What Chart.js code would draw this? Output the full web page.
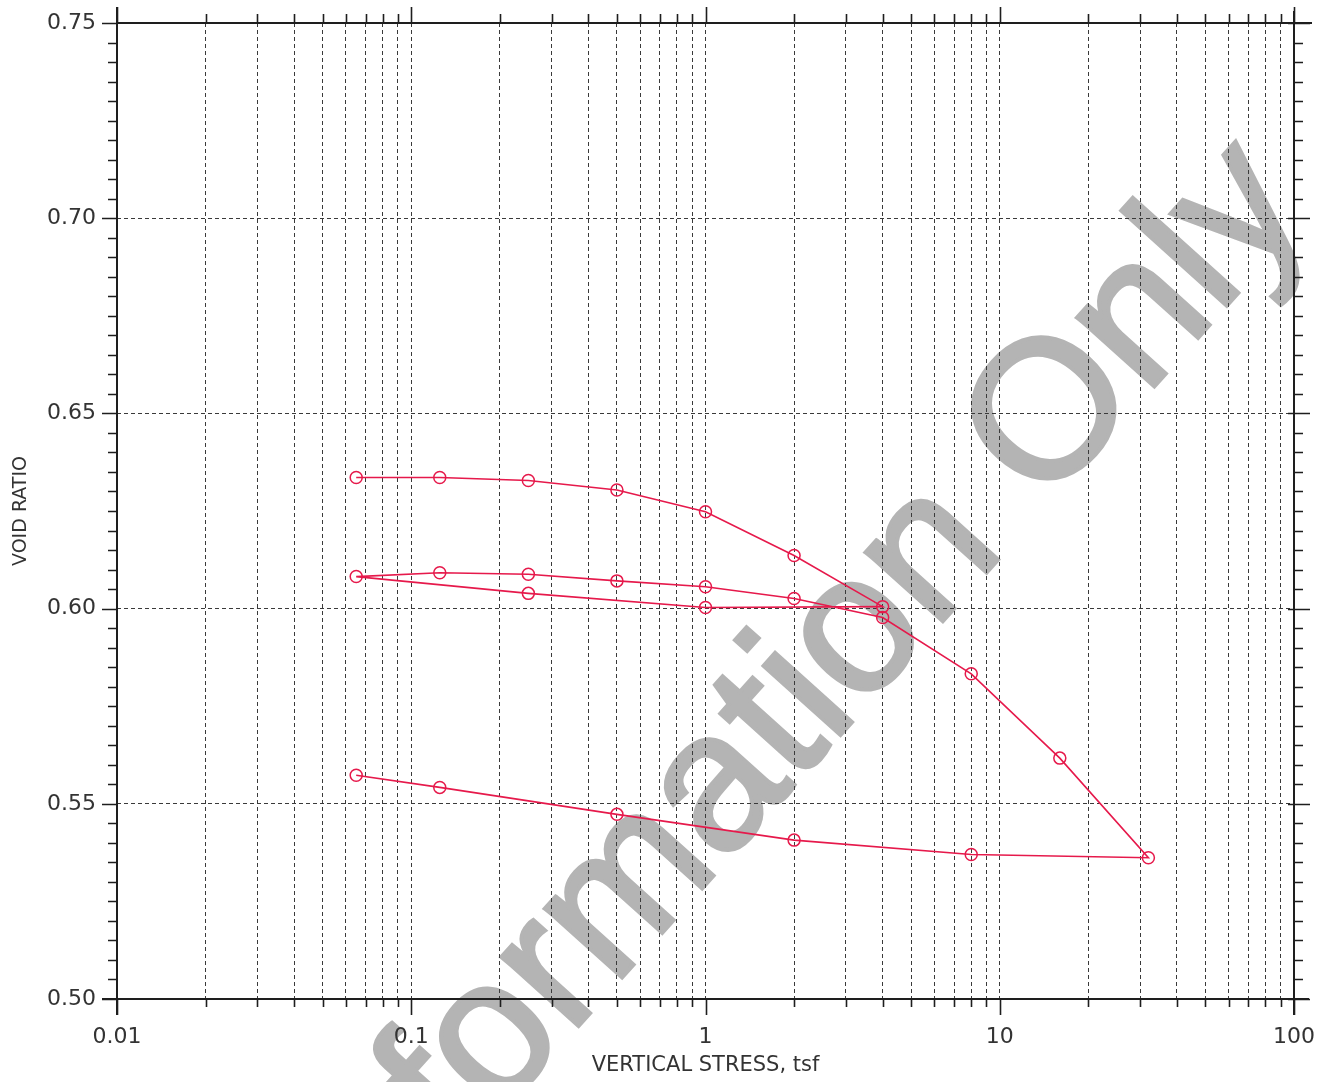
<!DOCTYPE html>
<html>
<head>
<meta charset="utf-8">
<script src="https://cdn.jsdelivr.net/npm/chart.js@4.4.1/dist/chart.umd.min.js"></script>
<style>
  html, body { margin: 0; padding: 0; background: #ffffff; }
  #wrap { width: 1326px; height: 1082px; }
</style>
</head>
<body>
<div id="wrap"><canvas id="c" width="1326" height="1082"></canvas></div>
<script>
// ---- Data ----
const stress = [0.065, 0.125, 0.25, 0.5, 1, 2, 4,
                1, 0.25, 0.065,
                0.125, 0.25, 0.5, 1, 2, 4, 8, 16, 32,
                8, 2, 0.5, 0.125, 0.065];
const voidRatio = [0.6336, 0.6336, 0.6328, 0.6304, 0.6248, 0.6136, 0.6005,
                   0.6003, 0.6039, 0.6082,
                   0.6092, 0.6088, 0.6071, 0.6056, 0.6026, 0.5977, 0.5833, 0.5617, 0.5362,
                   0.5370, 0.5407, 0.5473, 0.5542, 0.5573];

// ---- Axis ticks ----
const xGridValues = [0.01, 0.02, 0.03, 0.04, 0.05, 0.06, 0.07, 0.08, 0.09,
                     0.1, 0.2, 0.3, 0.4, 0.5, 0.6, 0.7, 0.8, 0.9,
                     1, 2, 3, 4, 5, 6, 7, 8, 9,
                     10, 20, 30, 40, 50, 60, 70, 80, 90, 100];
const xDecades = [0.01, 0.1, 1, 10, 100];
const xTickLabels = ['0.01', '0.1', '1', '10', '100'];
const yTicks = [0.50, 0.55, 0.60, 0.65, 0.70, 0.75];
const yTickLabels = ['0.50', '0.55', '0.60', '0.65', '0.70', '0.75'];
const yMinorStep = 0.005;

const xTitle = 'VERTICAL STRESS, tsf';
const yTitle = 'VOID RATIO';
const watermark = 'Information Only';

const lineColor = '#e6194b';
const axisColor = '#1e1e1e';
const gridColor = '#3a3a3a';
const textColor = '#333333';
const fontFamily = '"DejaVu Sans", "Liberation Sans", Arial, sans-serif';
const wmFamily = '"Liberation Sans", Arial, Helvetica, sans-serif';

function isDecade(v) {
  return xDecades.some(d => Math.abs(v - d) / d < 1e-6);
}
function zeroPad(s) {
  s.paddingTop = 0; s.paddingBottom = 0; s.paddingLeft = 0; s.paddingRight = 0;
}

const watermarkPlugin = {
  id: 'watermark',
  beforeDraw(chart) {
    const ctx = chart.ctx;
    ctx.save();
    ctx.font = '196px ' + wmFamily;
    ctx.fillStyle = '#b4b4b4';
    ctx.strokeStyle = '#b4b4b4';
    ctx.lineWidth = 4;
    const pre = ctx.measureText('Information ').width + ctx.measureText('O').width / 2;
    ctx.translate(1054, 417);
    ctx.rotate(-48 * Math.PI / 180);
    ctx.textBaseline = 'middle';
    ctx.textAlign = 'left';
    ctx.fillText(watermark, -pre, 0);
    ctx.strokeText(watermark, -pre, 0);
    ctx.restore();
  }
};

const framePlugin = {
  id: 'frame',
  afterDraw(chart) {
    const ctx = chart.ctx;
    const xs = chart.scales.x, ys = chart.scales.y;
    const L = chart.chartArea.left, R = chart.chartArea.right;
    const T = chart.chartArea.top, B = chart.chartArea.bottom;
    ctx.save();
    ctx.strokeStyle = axisColor;
    ctx.lineCap = 'butt';
    ctx.lineWidth = 2;
    ctx.beginPath();
    ctx.moveTo(L, T - 16); ctx.lineTo(L, B + 16);
    ctx.moveTo(L, T); ctx.lineTo(R + 18, T);
    ctx.moveTo(L - 15, B); ctx.lineTo(R + 15, B);
    ctx.moveTo(R, T - 12); ctx.lineTo(R, B + 16);
    ctx.stroke();
    ctx.lineWidth = 1.6;
    ctx.beginPath();
    xGridValues.forEach(v => {
      const px = Math.round(xs.getPixelForValue(v)) + 0.5;
      const major = isDecade(v);
      ctx.moveTo(px, T - (major ? 16 : 9)); ctx.lineTo(px, T);
      ctx.moveTo(px, B); ctx.lineTo(px, B + (major ? 16 : 8));
    });
    const n = Math.round((ys.max - ys.min) / yMinorStep);
    for (let i = 0; i <= n; i++) {
      const v = ys.min + i * yMinorStep;
      const py = Math.round(ys.getPixelForValue(v)) + 0.5;
      const major = i % 10 === 0;
      ctx.moveTo(L - (major ? 15 : 9), py); ctx.lineTo(L, py);
      ctx.moveTo(R - (major ? 6 : 0), py); ctx.lineTo(R + (major ? 16 : 9), py);
    }
    ctx.stroke();
    ctx.restore();
  }
};

const points = stress.map((s, i) => ({ x: s, y: voidRatio[i] }));

new Chart(document.getElementById('c'), {
  type: 'scatter',
  data: {
    datasets: [{
      data: points,
      showLine: true,
      borderColor: lineColor,
      borderWidth: 1.6,
      tension: 0,
      pointStyle: 'circle',
      pointRadius: 6,
      pointBorderWidth: 1.5,
      pointBorderColor: lineColor,
      pointBackgroundColor: 'rgba(0,0,0,0)'
    }]
  },
  options: {
    responsive: false,
    animation: false,
    devicePixelRatio: 1,
    layout: { padding: { top: 23, right: 32, bottom: 0, left: 0 } },
    plugins: { legend: { display: false }, tooltip: { enabled: false } },
    scales: {
      x: {
        type: 'logarithmic',
        position: 'bottom',
        min: 0.01,
        max: 100,
        afterBuildTicks: s => { s.ticks = xGridValues.map(v => ({ value: v })); },
        afterFit: s => { s.height = 83; zeroPad(s); },
        grid: { color: gridColor, lineWidth: 1, drawTicks: false },
        border: { display: false, dash: [4, 3] },
        ticks: {
          autoSkip: false,
          maxRotation: 0,
          minRotation: 0,
          padding: 25,
          color: textColor,
          font: { family: fontFamily, size: 22 },
          callback: v => {
            const idx = xDecades.findIndex(d => Math.abs(v - d) / d < 1e-6);
            return idx >= 0 ? xTickLabels[idx] : '';
          }
        },
        title: {
          display: true,
          text: xTitle,
          color: textColor,
          font: { family: fontFamily, size: 21 },
          padding: { top: 0, bottom: 4 }
        }
      },
      y: {
        type: 'linear',
        position: 'left',
        min: 0.50,
        max: 0.75,
        afterBuildTicks: s => { s.ticks = yTicks.map(v => ({ value: v })); },
        afterFit: s => { s.width = 117; zeroPad(s); },
        grid: { color: gridColor, lineWidth: 1, drawTicks: false },
        border: { display: false, dash: [4, 3] },
        ticks: {
          padding: 21,
          color: textColor,
          font: { family: fontFamily, size: 22 },
          callback: (v) => {
            const idx = yTicks.findIndex(t => Math.abs(t - v) < 1e-9);
            return idx >= 0 ? yTickLabels[idx] : '';
          }
        },
        title: {
          display: true,
          text: yTitle,
          color: textColor,
          font: { family: fontFamily, size: 19 },
          padding: { top: 10, bottom: 0 }
        }
      }
    }
  },
  plugins: [watermarkPlugin, framePlugin]
});
</script>
</body>
</html>
